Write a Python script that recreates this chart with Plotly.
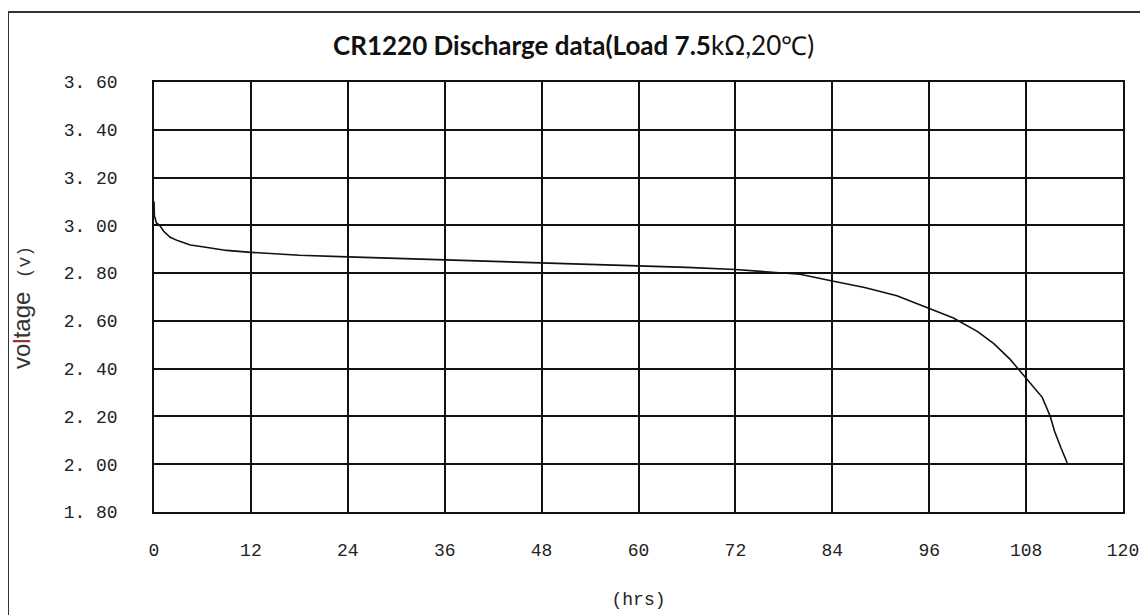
import plotly.graph_objects as go

# Data
hours = [0, 0.05, 0.3, 0.7, 1.2, 2, 3, 4.5, 6, 9, 12, 18, 24, 30, 36, 42, 48, 54,
         60, 66, 72, 76, 80, 84, 88, 92, 96, 99, 102, 104, 106, 107, 108, 109,
         110, 111, 111.5, 112.3, 113.1]
voltage = [3.10, 3.04, 3.01, 3.00, 2.975, 2.95, 2.935, 2.918, 2.91, 2.895, 2.887,
           2.875, 2.868, 2.862, 2.856, 2.85, 2.845, 2.838, 2.832, 2.824, 2.815,
           2.806, 2.795, 2.767, 2.74, 2.705, 2.65, 2.612, 2.555, 2.505, 2.44,
           2.40, 2.36, 2.32, 2.28, 2.20, 2.14, 2.07, 2.005]

x_ticks = [0, 12, 24, 36, 48, 60, 72, 84, 96, 108, 120]
y_ticks = [1.80, 2.00, 2.20, 2.40, 2.60, 2.80, 3.00, 3.20, 3.40, 3.60]
y_tick_text = ["1. 80", "2. 00", "2. 20", "2. 40", "2. 60", "2. 80", "3. 00",
               "3. 20", "3. 40", "3. 60"]

title_text = "<b>CR1220 Discharge data(Load 7.5</b>kΩ,20℃)"
x_title = "(hrs)"
y_title = ("vo<span style='color:#a03030'>l</span>tage  "
           "<span style='font-family:Liberation Mono;font-size:18px'>(v)</span>")

# page has an 8px body margin; figure coordinates = page coordinates - 8
W, H = 1140, 607
L, R, T, B = 146, 25, 74, 103
pw, ph = W - L - R, H - T - B

def px_x(page_x):
    return (page_x - 8 - L) / pw

def px_y(page_y):
    return (ph - (page_y - 8 - T)) / ph

fig = go.Figure()
fig.add_trace(go.Scatter(x=hours, y=voltage, mode="lines",
                         line=dict(color="#111111", width=1.6), showlegend=False))

tick_font = dict(family="Liberation Mono", size=18, color="#222222")
fig.update_layout(
    width=W, height=H,
    margin=dict(l=L, r=R, t=T, b=B, autoexpand=False),
    paper_bgcolor="white", plot_bgcolor="white",
    xaxis=dict(range=[0, 120], tickvals=x_ticks, ticktext=[str(v) for v in x_ticks],
               showgrid=True, gridcolor="#111111", gridwidth=1.5,
               showline=True, linecolor="#111111", linewidth=1.5, mirror=True,
               zeroline=False, ticks="", tickfont=tick_font, ticklabelstandoff=21,
               automargin=False,
               title=dict(text=x_title, font=dict(family="Liberation Mono", size=18, color="#222222"),
                          standoff=32)),
    yaxis=dict(range=[1.80, 3.60], tickvals=y_ticks, ticktext=y_tick_text,
               showgrid=True, gridcolor="#111111", gridwidth=1.5,
               showline=True, linecolor="#111111", linewidth=1.5, mirror=True,
               zeroline=False, ticks="", tickfont=tick_font, ticklabelstandoff=31,
               automargin=False),
    shapes=[dict(type="rect", xref="paper", yref="paper",
                 x0=px_x(8), x1=px_x(1145),
                 y0=px_y(640), y1=px_y(12),
                 line=dict(color="#333333", width=2), fillcolor="rgba(0,0,0,0)",
                 layer="below")],
    annotations=[
        dict(text=title_text, xref="paper", yref="paper",
             x=px_x(573), y=px_y(45), xanchor="center", yanchor="middle",
             showarrow=False, font=dict(family="Lato", size=26, color="#111111")),
        dict(text=y_title, xref="paper", yref="paper",
             x=px_x(21), y=px_y(308), xanchor="center", yanchor="middle",
             textangle=-90, showarrow=False,
             font=dict(family="Liberation Sans", size=24, color="#333333")),
    ],
)

fig.write_html("out.html")
